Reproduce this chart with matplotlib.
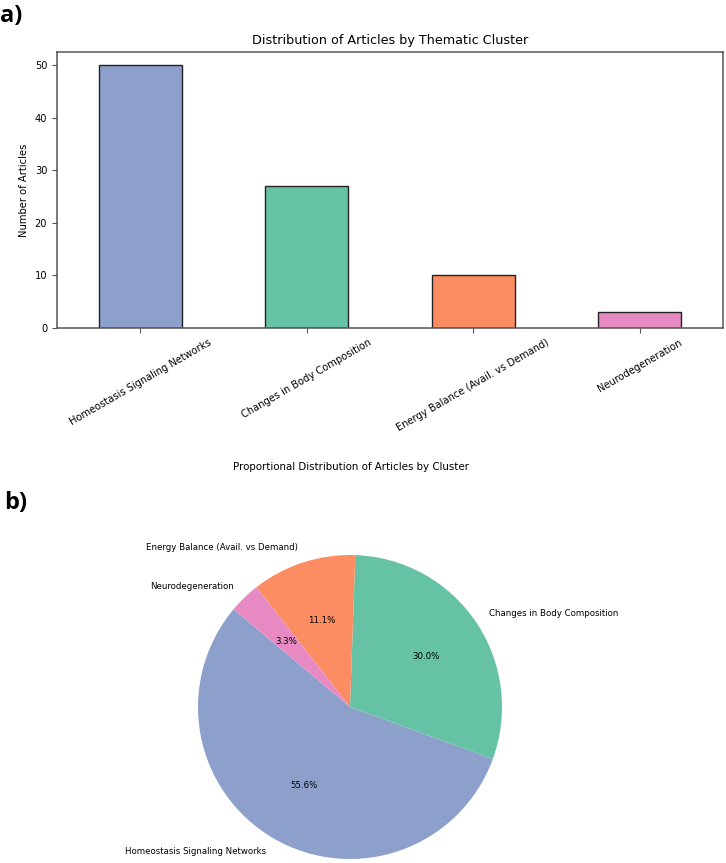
import matplotlib

matplotlib.use("Agg")
import matplotlib.pyplot as plt

clusters = [
    "Homeostasis Signaling Networks",
    "Changes in Body Composition",
    "Energy Balance (Avail. vs Demand)",
    "Neurodegeneration",
]
article_counts = [50, 27, 10, 3]
cluster_colors = ["#8da0cb", "#66c2a5", "#fc8d62", "#e78ac3"]

W, H = 726, 863
fig = plt.figure(figsize=(W / 100, H / 100), dpi=100)

# a) bar chart
ax_bar = fig.add_axes([57 / W, (H - 328) / H, (723 - 57) / W, (328 - 52) / H])
positions = range(len(clusters))
ax_bar.bar(positions, article_counts, width=0.5, color=cluster_colors,
           edgecolor="#222222", linewidth=1.0)
ax_bar.set_xlim(-0.5, len(clusters) - 0.5)
ax_bar.set_xticks(list(positions))
ax_bar.set_xticklabels(clusters, rotation=30, fontsize=7.1)
ax_bar.tick_params(axis="y", labelsize=7.1)
ax_bar.tick_params(color="#555555")
for spine in ax_bar.spines.values():
    spine.set_color("#555555")
    spine.set_linewidth(1.1)
ax_bar.set_ylabel("Number of Articles", fontsize=7.2)
ax_bar.set_title("Distribution of Articles by Thematic Cluster", fontsize=9.2)

# b) pie chart
r_px = 152
side = 2.5 * r_px
cx, cy = 350, 707
ax_pie = fig.add_axes([(cx - side / 2) / W, (H - cy - side / 2) / H, side / W, side / H])
ax_pie.pie(article_counts, labels=clusters, colors=cluster_colors, autopct="%1.1f%%",
           startangle=140, textprops={"fontsize": 6.2})
ax_pie.set_aspect("equal")
fig.text(351 / W, 1 - 467 / H, "Proportional Distribution of Articles by Cluster",
         ha="center", va="center", fontsize=7.4)

fig.text(0 / W, 1 - 16 / H, "a)", ha="left", va="center", fontsize=17,
         fontweight="bold", family="Open Sans")
fig.text(4 / W, 1 - 503 / H, "b)", ha="left", va="center", fontsize=17,
         fontweight="bold", family="Open Sans")

fig.savefig("out.png", dpi=100)
plt.close(fig)
